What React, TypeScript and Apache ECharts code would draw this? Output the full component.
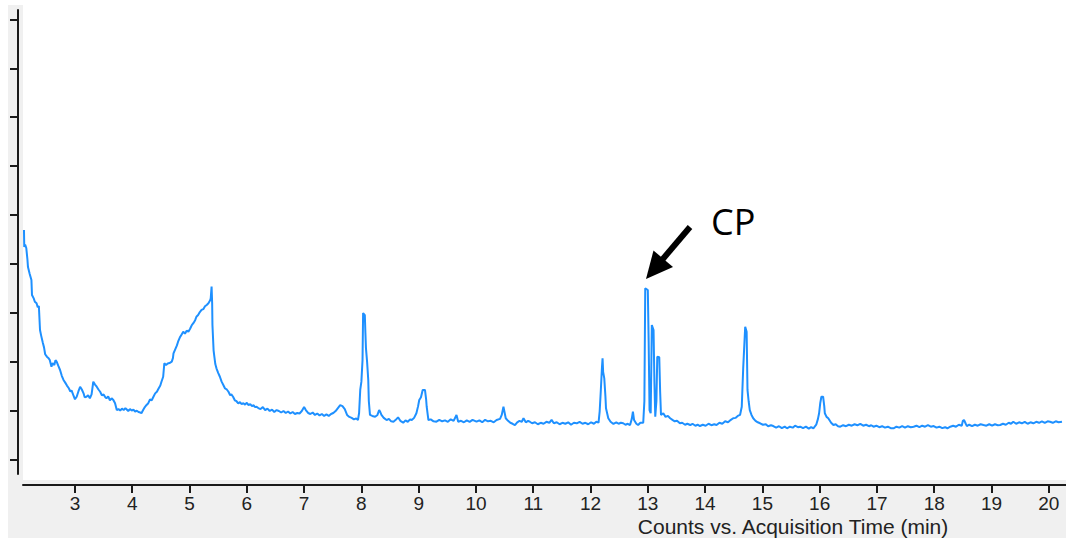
import React, { useEffect, useRef } from "react";
import * as echarts from "echarts";

// Retention time (min) / abundance (arbitrary counts, one y tick = 50)
const decayTrace: number[][] = [
  [2.11, 234.8], [2.115, 217.5], [2.13, 220], [2.15, 216.5], [2.17, 205], [2.18, 197], [2.21, 190],
  [2.24, 183.8], [2.25, 168.5], [2.28, 165], [2.3, 161.6], [2.33, 160], [2.35, 156], [2.37, 157.2],
  [2.39, 132.7], [2.41, 127], [2.44, 119.5], [2.46, 115], [2.48, 108], [2.51, 105.5], [2.54, 104],
  [2.56, 102], [2.59, 95.3], [2.61, 99], [2.64, 97], [2.66, 102], [2.68, 100.4], [2.71, 96],
  [2.74, 91.9], [2.77, 86], [2.8, 81.7], [2.83, 79], [2.86, 76], [2.89, 73.5], [2.92, 70], [2.94, 71],
  [2.97, 66.4], [3.0, 62], [3.03, 64.6], [3.06, 70], [3.09, 74.8], [3.12, 72], [3.15, 68.1], [3.17, 64],
  [3.2, 64.6], [3.23, 66], [3.26, 63], [3.29, 67], [3.32, 79.9], [3.35, 77], [3.38, 74.8], [3.41, 72],
  [3.44, 69.7], [3.47, 66], [3.5, 67], [3.53, 64], [3.55, 63], [3.58, 65], [3.61, 61], [3.64, 63],
  [3.67, 61.3], [3.7, 58], [3.73, 51], [3.76, 52], [3.79, 50.5], [3.82, 52.5], [3.85, 51], [3.88, 53],
  [3.9, 51.8], [3.93, 50], [3.96, 52], [3.99, 50.5], [4.02, 51.5], [4.05, 49.5], [4.08, 50.3],
  [4.11, 49], [4.14, 48.5], [4.16, 47.7],
];

const humpTrace: number[][] = [
  [4.19, 51], [4.22, 54], [4.25, 56.2], [4.28, 58], [4.31, 62], [4.34, 61], [4.37, 64.6], [4.4, 68],
  [4.43, 69.7], [4.46, 73], [4.49, 76], [4.51, 79.9], [4.54, 85], [4.56, 98.7], [4.59, 97], [4.62, 98.5],
  [4.65, 99], [4.69, 100.4], [4.71, 104], [4.72, 108.9], [4.75, 113], [4.78, 117], [4.8, 120.8],
  [4.83, 125], [4.86, 128], [4.89, 131], [4.92, 129], [4.95, 132], [4.98, 131], [5.01, 134],
  [5.04, 137.8], [5.07, 140], [5.1, 143], [5.12, 146.3], [5.15, 148], [5.18, 151], [5.21, 153.2],
  [5.24, 154], [5.27, 157], [5.3, 158.3], [5.33, 160], [5.36, 163], [5.37, 165.1], [5.385, 177],
  [5.395, 160], [5.4, 137.8], [5.42, 112], [5.43, 107.2], [5.45, 98], [5.47, 93.6], [5.5, 89],
  [5.53, 85], [5.56, 80], [5.59, 76.6], [5.62, 73], [5.65, 72], [5.68, 69.7], [5.71, 66], [5.73, 67],
  [5.76, 64.6], [5.79, 61], [5.82, 60], [5.85, 57.9], [5.88, 59], [5.91, 57], [5.94, 58], [5.97, 56.5],
  [6.0, 58.5], [6.03, 56], [6.06, 57], [6.09, 55], [6.12, 56], [6.14, 54], [6.17, 54.4],
];

const midTrace: number[][] = [
  [6.2, 53], [6.24, 52], [6.28, 54], [6.32, 51], [6.36, 52.5], [6.4, 50], [6.44, 51.5], [6.48, 49],
  [6.52, 51], [6.56, 50], [6.6, 48.5], [6.64, 50], [6.68, 48], [6.72, 49.5], [6.76, 47.5], [6.8, 49],
  [6.84, 47], [6.88, 48], [6.92, 47.5], [6.96, 50], [7.0, 54], [7.03, 51], [7.07, 48], [7.11, 47],
  [7.15, 48.5], [7.19, 46], [7.23, 47.5], [7.27, 45.5], [7.31, 47], [7.35, 45], [7.39, 46.5], [7.43, 45],
  [7.47, 47], [7.51, 48], [7.55, 50], [7.59, 53], [7.63, 56], [7.67, 55], [7.71, 52], [7.75, 46],
  [7.79, 44], [7.83, 43], [7.87, 41.5], [7.91, 42.5], [7.94, 40.8], [7.96, 48], [7.98, 71.5], [8.0, 80],
  [8.02, 102], [8.03, 150], [8.06, 148], [8.07, 130], [8.08, 114], [8.1, 100], [8.12, 81.7], [8.13, 60],
  [8.15, 46], [8.19, 45], [8.24, 44.2], [8.28, 46], [8.31, 51], [8.33, 49], [8.35, 46], [8.39, 43],
  [8.44, 40.8], [8.48, 42], [8.52, 39.5], [8.56, 39.1], [8.6, 41], [8.64, 43.6], [8.68, 40], [8.73, 38.1],
  [8.77, 40.5], [8.81, 39], [8.85, 41.5], [8.88, 40.8], [8.92, 43], [8.96, 47.7], [8.99, 55], [9.01, 61.3],
  [9.04, 64], [9.07, 71.5], [9.11, 71.5], [9.13, 62], [9.14, 54.4], [9.17, 40.8], [9.21, 41.5],
  [9.26, 39.5], [9.31, 39.1], [9.36, 41], [9.41, 39.5], [9.46, 40.5], [9.51, 39], [9.56, 41.5], [9.61, 40],
  [9.66, 46], [9.69, 39.1], [9.74, 40], [9.79, 38.5], [9.84, 40.5], [9.89, 39], [9.94, 41], [10.01, 39.1],
  [10.06, 40.5], [10.11, 38.5], [10.16, 41], [10.21, 39.5], [10.26, 40], [10.31, 38.5], [10.36, 40.8],
  [10.42, 42], [10.45, 46], [10.48, 54.4], [10.52, 42.6], [10.56, 40], [10.6, 38], [10.64, 37],
  [10.68, 35.7], [10.72, 38.5], [10.76, 40], [10.8, 39], [10.83, 42.6], [10.87, 38.5], [10.91, 40],
  [10.94, 39.1], [10.98, 37.5],
];

const cpTrace: number[][] = [
  [11.03, 38.5], [11.08, 36.5], [11.13, 38], [11.18, 37], [11.23, 39], [11.28, 38], [11.32, 41],
  [11.36, 37.5], [11.41, 38.5], [11.46, 36.5], [11.51, 38], [11.56, 37], [11.61, 38.5], [11.66, 36],
  [11.71, 38], [11.76, 37.5], [11.81, 39], [11.86, 37], [11.91, 38], [11.96, 36.5], [12.01, 38.5],
  [12.06, 37], [12.1, 39], [12.14, 38.1], [12.16, 50], [12.18, 71.5], [12.2, 95], [12.21, 103.8],
  [12.22, 90], [12.24, 83.4], [12.26, 65], [12.27, 52.8], [12.31, 42.6], [12.35, 39], [12.4, 36.8],
  [12.45, 38.5], [12.49, 37], [12.53, 38], [12.57, 37.5], [12.61, 36], [12.65, 37], [12.69, 35.7],
  [12.72, 42], [12.74, 49.3], [12.76, 40.8], [12.8, 37], [12.83, 35.7], [12.87, 38], [12.92, 38.1],
  [12.94, 60], [12.955, 175.3], [13.0, 173.6], [13.015, 120], [13.03, 51], [13.05, 47.7], [13.06, 90],
  [13.07, 137.8], [13.1, 132.7], [13.115, 80], [13.13, 44.2], [13.15, 60], [13.165, 105.5],
  [13.2, 104.9], [13.215, 70], [13.23, 46], [13.27, 47.7], [13.31, 44], [13.35, 45], [13.39, 42.6],
  [13.43, 41], [13.47, 39.5], [13.51, 40], [13.56, 37.5], [13.6, 38], [13.65, 36], [13.69, 37],
  [13.74, 35.7], [13.78, 37], [13.83, 35], [13.87, 36], [13.91, 34.7], [13.96, 36],
];

const lateTrace: number[][] = [
  [14.01, 35], [14.06, 37], [14.11, 35.5], [14.16, 36.5], [14.2, 35.7], [14.25, 38], [14.3, 37],
  [14.35, 39.5], [14.4, 38.5], [14.45, 41], [14.49, 42.6], [14.53, 43], [14.57, 45], [14.61, 46],
  [14.64, 54.4], [14.665, 93.6], [14.7, 136.1], [14.725, 131], [14.74, 71.5], [14.76, 60], [14.78, 51],
  [14.81, 46], [14.84, 42.6], [14.88, 40], [14.92, 38.5], [14.96, 37.5], [15.01, 36], [15.06, 36.5],
  [15.1, 34.5], [15.15, 35.5], [15.19, 34.7], [15.24, 33], [15.29, 34.5], [15.34, 32.5], [15.39, 34],
  [15.43, 32.4], [15.48, 34], [15.53, 33], [15.57, 35], [15.62, 33.5], [15.66, 34], [15.71, 32.5],
  [15.76, 34], [15.81, 32], [15.85, 33.5], [15.89, 32.4], [15.94, 36], [15.97, 42], [15.99, 47.7],
  [16.01, 58], [16.03, 64.6], [16.06, 64.6], [16.08, 55], [16.09, 47.7], [16.12, 44], [16.15, 42.6],
  [16.2, 38], [16.24, 35.7], [16.28, 36.5], [16.32, 34.5], [16.36, 34], [16.41, 35.5], [16.46, 34.5],
  [16.51, 36], [16.56, 35], [16.61, 36.5], [16.66, 35.5], [16.71, 36.8], [16.76, 35], [16.81, 36],
  [16.86, 34.5], [16.9, 35.5], [16.94, 34], [16.99, 35], [17.04, 33.5], [17.09, 34.5], [17.14, 33],
  [17.19, 34], [17.24, 32.5], [17.29, 32.4], [17.34, 34], [17.39, 33], [17.44, 34.5], [17.49, 33],
  [17.54, 34.5], [17.59, 33.5], [17.64, 34], [17.69, 35], [17.74, 33.5], [17.79, 35], [17.84, 34],
  [17.89, 35.5], [17.94, 34], [17.99, 34.7], [18.04, 33], [18.09, 34], [18.14, 32.5], [18.19, 33.5],
  [18.23, 32.4], [18.28, 34], [18.33, 35], [18.38, 34], [18.43, 36], [18.48, 35], [18.5, 40],
  [18.52, 40.8], [18.55, 37], [18.57, 34.7], [18.61, 36], [18.66, 34.5], [18.71, 36], [18.76, 35],
  [18.81, 36.5], [18.86, 35.7], [18.91, 35], [18.96, 36.5], [19.01, 35], [19.06, 36.5], [19.11, 35.5],
  [19.15, 35.7], [19.2, 37], [19.25, 36], [19.3, 38], [19.34, 37], [19.38, 39.1], [19.43, 37],
  [19.48, 38.5], [19.53, 37.5], [19.58, 39], [19.63, 37], [19.68, 38.5], [19.73, 37.5], [19.78, 39],
  [19.83, 38], [19.88, 39.5], [19.93, 38], [19.98, 39.5], [20.02, 39.1], [20.07, 38], [20.12, 39.5],
  [20.17, 38.5], [20.23, 39.1],
];

const xTickValues = [3, 4, 5, 6, 7, 8, 9, 10, 11, 12, 13, 14, 15, 16, 17, 18, 19, 20];
const yTickValues = [0, 50, 100, 150, 200, 250, 300, 350, 400, 450];
const xAxisTitle = "Counts vs. Acquisition Time (min)";
const peakLabel = "CP";

export default function App() {
  const ref = useRef<HTMLDivElement>(null);

  useEffect(() => {
    if (!ref.current) return;
    const chart = echarts.init(ref.current, undefined, { renderer: "svg" });
    const data = [...decayTrace, ...humpTrace, ...midTrace, ...cpTrace, ...lateTrace];
    const axisColor = "#1a1a1a";

    chart.setOption({
      animation: false,
      backgroundColor: "#ffffff",
      grid: { left: 23, right: 0, top: 10, bottom: 67, containLabel: false },
      xAxis: {
        type: "value",
        min: 2.093,
        max: 20.3,
        offset: 11,
        splitLine: { show: false },
        axisLine: { show: true, onZero: false, lineStyle: { color: axisColor, width: 2 } },
        axisTick: { show: true, length: 8, lineStyle: { color: axisColor, width: 2 }, customValues: xTickValues },
        axisLabel: {
          show: true,
          margin: 9,
          color: "#222",
          fontSize: 19,
          fontFamily: "Liberation Sans, Arial, sans-serif",
          customValues: xTickValues,
        },
      },
      yAxis: {
        type: "value",
        min: -14.3,
        max: 459.5,
        offset: 5,
        splitLine: { show: false },
        axisLine: { show: true, onZero: false, lineStyle: { color: axisColor, width: 2 } },
        axisTick: { show: true, length: 8, lineStyle: { color: axisColor, width: 2 }, customValues: yTickValues },
        axisLabel: { show: false, customValues: yTickValues },
      },
      graphic: [
        {
          type: "rect",
          z: -100,
          silent: true,
          shape: { x: 8, y: 5, width: 1058, height: 533 },
          style: { fill: "#f0f0f0" },
        },
        {
          type: "rect",
          z: -99,
          silent: true,
          shape: { x: 23, y: 5, width: 1043, height: 475 },
          style: { fill: "#ffffff" },
        },
        {
          type: "text",
          z: 50,
          x: 793,
          y: 526,
          style: {
            text: xAxisTitle,
            fill: "#222",
            font: "21px 'Liberation Sans', Arial, sans-serif",
            textAlign: "center",
            textVerticalAlign: "middle",
          },
        },
        {
          type: "text",
          z: 50,
          x: 711,
          y: 221,
          style: {
            text: peakLabel,
            fill: "#000",
            font: "36px 'Open Sans', sans-serif",
            textAlign: "left",
            textVerticalAlign: "middle",
          },
        },
        {
          type: "line",
          z: 50,
          shape: { x1: 690, y1: 227, x2: 662, y2: 260 },
          style: { stroke: "#000", lineWidth: 6, lineCap: "butt" },
        },
        {
          type: "polygon",
          z: 50,
          shape: { points: [[646, 279], [653.5, 250.5], [673, 267]] },
          style: { fill: "#000" },
        },
      ],
      series: [
        {
          type: "line",
          data,
          showSymbol: false,
          symbol: "none",
          smooth: false,
          lineStyle: { color: "#1e90ff", width: 2 },
          itemStyle: { color: "#1e90ff" },
          z: 5,
        },
      ],
    });

    return () => chart.dispose();
  }, []);

  return (
    <div
      ref={ref}
      style={{ position: "absolute", left: 0, top: 0, width: 1066, height: 541 }}
    />
  );
}
